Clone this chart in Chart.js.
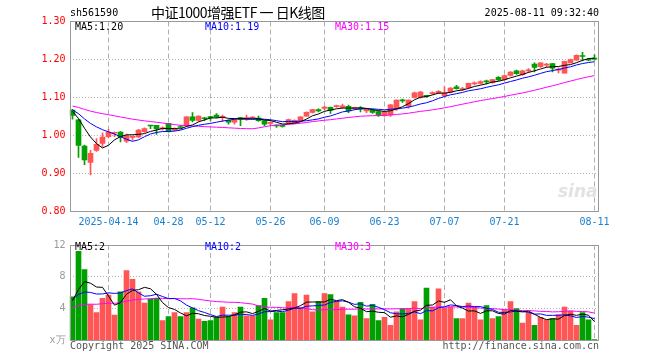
<!DOCTYPE html>
<html><head><meta charset="utf-8">
<script src="https://cdn.jsdelivr.net/npm/chart.js@4"></script>
<style>
html,body{margin:0;padding:0;background:#fff;}
#wrap{position:relative;width:660px;height:360px;overflow:hidden;background:#fff;}
canvas{position:absolute;left:0;}
.t{position:absolute;font-family:"DejaVu Sans Mono",monospace;font-size:10px;line-height:12px;white-space:nowrap;}
</style></head><body>
<div id="wrap">
<canvas id="k" width="660" height="235" style="top:0"></canvas>
<canvas id="v" width="660" height="125" style="top:235px"></canvas>
<div class="t" id="code" style="left:70px;top:7px;color:#000"></div>
<div class="t" id="title" style="left:151px;top:4px;font-family:'Noto Sans CJK SC',sans-serif;font-size:14px;line-height:17px;letter-spacing:-0.5px;color:#000"></div>
<div class="t" id="stamp" style="right:61px;top:7px;color:#000"></div>
<div class="t" id="kma5" style="left:75px;top:21px;color:#000"></div>
<div class="t" id="kma10" style="left:205px;top:21px;color:#0000ff"></div>
<div class="t" id="kma30" style="left:335px;top:21px;color:#ff00ff"></div>
<div class="t" id="vma5" style="left:75px;top:241px;color:#000"></div>
<div class="t" id="vma10" style="left:205px;top:241px;color:#0000ff"></div>
<div class="t" id="vma30" style="left:335px;top:241px;color:#ff00ff"></div>
<div class="t" style="left:558px;top:181px;font-family:'DejaVu Sans',sans-serif;font-size:17px;line-height:20px;font-style:italic;font-weight:bold;color:#e2e2e2">sina</div>
<div class="t" style="left:70px;top:340px;color:#555">Copyright 2025 SINA.COM</div>
<div class="t" style="right:61px;top:340px;color:#555">http://finance.sina.com.cn</div>
</div>
<script>
const stockCode = 'sh561590';
const chartTitle = '中证1000增强ETF 一 日K线图';
const timeStamp = '2025-08-11 09:32:40';

const dates = [
'2025-04-03','2025-04-07','2025-04-08','2025-04-09','2025-04-10','2025-04-11',
'2025-04-14','2025-04-15','2025-04-16','2025-04-17','2025-04-18',
'2025-04-21','2025-04-22','2025-04-23','2025-04-24','2025-04-25',
'2025-04-28','2025-04-29','2025-04-30',
'2025-05-06','2025-05-07','2025-05-08','2025-05-09',
'2025-05-12','2025-05-13','2025-05-14','2025-05-15','2025-05-16',
'2025-05-19','2025-05-20','2025-05-21','2025-05-22','2025-05-23',
'2025-05-26','2025-05-27','2025-05-28','2025-05-29','2025-05-30',
'2025-06-03','2025-06-04','2025-06-05','2025-06-06',
'2025-06-09','2025-06-10','2025-06-11','2025-06-12','2025-06-13',
'2025-06-16','2025-06-17','2025-06-18','2025-06-19','2025-06-20',
'2025-06-23','2025-06-24','2025-06-25','2025-06-26','2025-06-27',
'2025-06-30','2025-07-01','2025-07-02','2025-07-03','2025-07-04',
'2025-07-07','2025-07-08','2025-07-09','2025-07-10','2025-07-11',
'2025-07-14','2025-07-15','2025-07-16','2025-07-17','2025-07-18',
'2025-07-21','2025-07-22','2025-07-23','2025-07-24','2025-07-25',
'2025-07-28','2025-07-29','2025-07-30','2025-07-31','2025-08-01',
'2025-08-04','2025-08-05','2025-08-06','2025-08-07','2025-08-08',
'2025-08-11'];

const tickDates = ['2025-04-14','2025-04-28','2025-05-12','2025-05-26','2025-06-09','2025-06-23','2025-07-07','2025-07-21','2025-08-11'];
const tickTexts = ['2025-04-14','04-28','05-12','05-26','06-09','06-23','07-07','07-21','08-11'];

const opens = [
1.067,1.041,0.972,0.929,0.961,0.979,0.997,1.006,1.009,0.985,
0.995,0.996,1.010,1.027,1.027,1.017,1.032,1.014,1.023,1.025,
1.049,1.040,1.046,1.048,1.054,1.048,1.040,1.035,1.047,1.042,
1.046,1.046,1.039,1.032,1.026,1.026,1.032,1.032,1.039,1.051,
1.061,1.068,1.071,1.074,1.076,1.074,1.077,1.071,1.071,1.065,
1.067,1.063,1.053,1.054,1.069,1.093,1.077,1.100,1.100,1.104,
1.110,1.112,1.105,1.114,1.128,1.121,1.126,1.136,1.137,1.142,
1.139,1.153,1.147,1.158,1.170,1.160,1.170,1.188,1.181,1.185,
1.189,1.172,1.164,1.191,1.198,1.210,1.199,1.203];
const closes = [
1.053,0.974,0.936,0.953,0.977,0.996,1.009,1.008,0.996,1.000,
0.997,1.014,1.018,1.025,1.017,1.020,1.011,1.018,1.021,1.049,
1.040,1.051,1.044,1.047,1.049,1.050,1.035,1.042,1.042,1.047,
1.047,1.039,1.030,1.033,1.025,1.024,1.042,1.040,1.049,1.061,
1.068,1.065,1.075,1.066,1.077,1.078,1.065,1.074,1.070,1.070,
1.061,1.053,1.061,1.081,1.093,1.091,1.093,1.112,1.114,1.103,
1.112,1.116,1.112,1.125,1.123,1.123,1.137,1.137,1.142,1.141,
1.147,1.146,1.158,1.167,1.163,1.170,1.172,1.179,1.191,1.186,
1.177,1.175,1.195,1.200,1.211,1.208,1.198,1.201];
const highs = [
1.069,1.043,0.975,0.961,0.992,1.007,1.016,1.009,1.010,1.004,
0.999,1.016,1.020,1.027,1.027,1.023,1.032,1.020,1.027,1.050,
1.060,1.052,1.048,1.051,1.058,1.054,1.041,1.043,1.048,1.054,
1.050,1.051,1.040,1.035,1.028,1.027,1.043,1.041,1.050,1.062,
1.069,1.070,1.077,1.075,1.080,1.083,1.080,1.075,1.076,1.071,
1.069,1.064,1.062,1.082,1.094,1.096,1.094,1.114,1.116,1.106,
1.115,1.118,1.128,1.126,1.132,1.127,1.138,1.141,1.144,1.146,
1.148,1.155,1.159,1.168,1.172,1.172,1.176,1.191,1.192,1.190,
1.190,1.178,1.196,1.201,1.212,1.219,1.203,1.212];
const lows = [
1.043,0.942,0.923,0.896,0.958,0.970,0.994,0.997,0.983,0.981,
0.988,0.994,1.008,1.018,1.003,1.014,1.009,1.012,1.019,1.024,
1.036,1.038,1.039,1.040,1.046,1.037,1.030,1.030,1.026,1.040,
1.043,1.037,1.026,1.026,1.021,1.022,1.030,1.031,1.037,1.050,
1.059,1.062,1.068,1.058,1.074,1.072,1.060,1.068,1.062,1.060,
1.058,1.050,1.050,1.050,1.066,1.087,1.072,1.098,1.098,1.100,
1.108,1.110,1.102,1.112,1.122,1.118,1.124,1.133,1.135,1.136,
1.137,1.144,1.145,1.156,1.161,1.158,1.166,1.167,1.179,1.180,
1.167,1.165,1.164,1.191,1.198,1.196,1.196,1.198];
const volumes = [
5.5,11.2,8.9,4.5,3.5,5.3,5.7,3.2,6.1,8.8,
7.7,6.1,4.7,5.2,5.3,2.5,3.0,3.5,3.0,3.5,
4.1,2.7,2.4,2.5,2.9,4.2,3.0,3.5,4.2,3.1,
3.1,4.4,5.3,2.6,3.5,3.5,4.9,5.9,4.1,5.7,
3.6,4.9,5.9,5.76,4.9,4.2,3.24,3.1,4.8,2.76,
4.56,2.5,2.9,1.9,3.6,4.0,4.0,4.9,2.6,6.6,
4.2,6.5,4.1,4.2,2.76,2.76,4.7,4.2,2.6,4.4,
2.76,3.0,3.84,4.9,4.0,2.2,3.5,1.9,2.9,2.6,
2.76,3.24,4.2,3.7,1.9,3.5,2.6,0.12];
// estimated sessions before the window, needed to start the moving averages
const prevCloses = [
1.090,1.088,1.092,1.085,1.087,1.090,1.094,1.091,1.086,1.083,
1.080,1.084,1.078,1.075,1.079,1.082,1.076,1.072,1.074,1.070,
1.072,1.075,1.071,1.068,1.070,1.067,1.065,1.068,1.064];
const prevVolumes = [
3.2,3.8,3.5,4.1,3.0,3.6,3.9,3.3,3.4,3.7,
3.6,3.2,3.9,3.5,3.3,3.8,3.6,3.4,3.7,3.5,
5.4,5.7,5.1,5.5,5.2,4.3,3.9,5.5,5.9];

const UP = '#ff5555', DOWN = '#00a000';
const colors = closes.map((c,i) => c >= opens[i] ? UP : DOWN);
function movAvg(prev, cur, n){
  const a = prev.concat(cur), p = prev.length;
  return cur.map((_, i) => { let s = 0; for (let k = p+i-n+1; k <= p+i; k++) s += a[k]; return s/n; });
}
const kMA5 = movAvg(prevCloses, closes, 5), kMA10 = movAvg(prevCloses, closes, 10), kMA30 = movAvg(prevCloses, closes, 30);
const vMA5 = movAvg(prevVolumes, volumes, 5), vMA10 = movAvg(prevVolumes, volumes, 10), vMA30 = movAvg(prevVolumes, volumes, 30);
const last = a => a[a.length-1];
const trunc2 = x => (Math.floor(x * 100 + 1e-9) / 100).toFixed(2);

document.getElementById('code').textContent = stockCode;
document.getElementById('title').textContent = chartTitle;
document.getElementById('stamp').textContent = timeStamp;
document.getElementById('kma5').textContent = 'MA5:' + trunc2(last(kMA5));
document.getElementById('kma10').textContent = 'MA10:' + trunc2(last(kMA10));
document.getElementById('kma30').textContent = 'MA30:' + trunc2(last(kMA30));
document.getElementById('vma5').textContent = 'MA5:' + Math.floor(last(vMA5));
document.getElementById('vma10').textContent = 'MA10:' + Math.floor(last(vMA10));
document.getElementById('vma30').textContent = 'MA30:' + Math.floor(last(vMA30));

const tickIdx = new Set(tickDates.map(d => dates.indexOf(d)));
const FONT = {family: 'DejaVu Sans Mono', size: 10};
const frame = {
  id: 'frame',
  afterDatasetsDraw(c){
    const {ctx, chartArea: a} = c;
    const x0 = Math.round(a.left + 0.5) + 0.5, x1 = Math.round(a.right + 0.5) + 0.5;
    const y0 = Math.round(a.top - 0.5) + 0.5, y1 = Math.round(a.bottom - 0.5) + 0.5;
    ctx.save(); ctx.strokeStyle = '#999'; ctx.lineWidth = 1;
    ctx.strokeRect(x0, y0, x1 - x0, y1 - y0); ctx.restore();
  }
};
function lineDS(data, color){
  return {type: 'line', data, borderColor: color, borderWidth: 1, pointRadius: 0, tension: 0, order: 0, fill: false};
}
function xScale(showLabels, h){
  return {
    offset: true,
    grid: {offset: false, drawTicks: false, lineWidth: 1,
      color: c => tickIdx.has(c.index) ? '#b0b0b0' : 'rgba(0,0,0,0)'},
    border: {display: false, dash: [5, 3]},
    ticks: {display: showLabels, autoSkip: false, maxRotation: 0, minRotation: 0, padding: 5,
      color: '#1a80d0', font: FONT,
      callback: (v, i) => { const k = tickDates.indexOf(dates[i]); return k >= 0 ? tickTexts[k] : ''; }},
    afterFit: s => { s.height = h; }
  };
}
const common = {
  responsive: false, animation: false, devicePixelRatio: 1, events: [],
  plugins: {legend: {display: false}, tooltip: {enabled: false}}
};

new Chart(document.getElementById('k'), {
  type: 'bar',
  data: {
    labels: dates,
    datasets: [
      lineDS(kMA5, '#000000'), lineDS(kMA10, '#0000ff'), lineDS(kMA30, '#ff00ff'),
      {type: 'bar', data: lows.map((l, i) => [l, highs[i]]), backgroundColor: colors,
        barThickness: 1, grouped: false, order: 2},
      {type: 'bar', data: opens.map((o, i) => [o, closes[i]]), backgroundColor: colors,
        barThickness: 5, grouped: false, minBarLength: 1, order: 1}
    ]
  },
  options: Object.assign({}, common, {
    layout: {padding: {top: 21.5, right: 62.5, left: 0, bottom: 0}},
    scales: {
      x: xScale(true, 23.5),
      y: {min: 0.8, max: 1.3,
        grid: {drawTicks: false,
          color: c => (c.index > 0 && c.index < c.scale.ticks.length - 1) ? '#b4b4b4' : 'rgba(0,0,0,0)'},
        border: {display: false, dash: [1, 2]},
        ticks: {stepSize: 0.1, padding: 4, color: '#ff0000', font: FONT, callback: v => v.toFixed(2)},
        afterFit: s => { s.width = 69.5; }}
    }
  }),
  plugins: [frame]
});

new Chart(document.getElementById('v'), {
  type: 'bar',
  data: {
    labels: dates,
    datasets: [
      lineDS(vMA5, '#000000'), lineDS(vMA10, '#0000ff'), lineDS(vMA30, '#ff00ff'),
      {type: 'bar', data: volumes, backgroundColor: colors, barThickness: 5, grouped: false, order: 1}
    ]
  },
  options: Object.assign({}, common, {
    layout: {padding: {top: 6.5, right: 62.5, left: 0, bottom: 0}},
    scales: {
      x: xScale(false, 19.5),
      y: {min: 0, max: 12,
        grid: {drawTicks: false,
          color: c => (c.index > 0 && c.index < c.scale.ticks.length - 1) ? '#b4b4b4' : 'rgba(0,0,0,0)'},
        border: {display: false, dash: [1, 2]},
        ticks: {stepSize: 4, padding: 4, color: '#999999', font: FONT,
          callback: v => v === 0 ? 'x万' : String(v)},
        afterFit: s => { s.width = 69.5; }}
    }
  }),
  plugins: [frame]
});
</script>
</body></html>
